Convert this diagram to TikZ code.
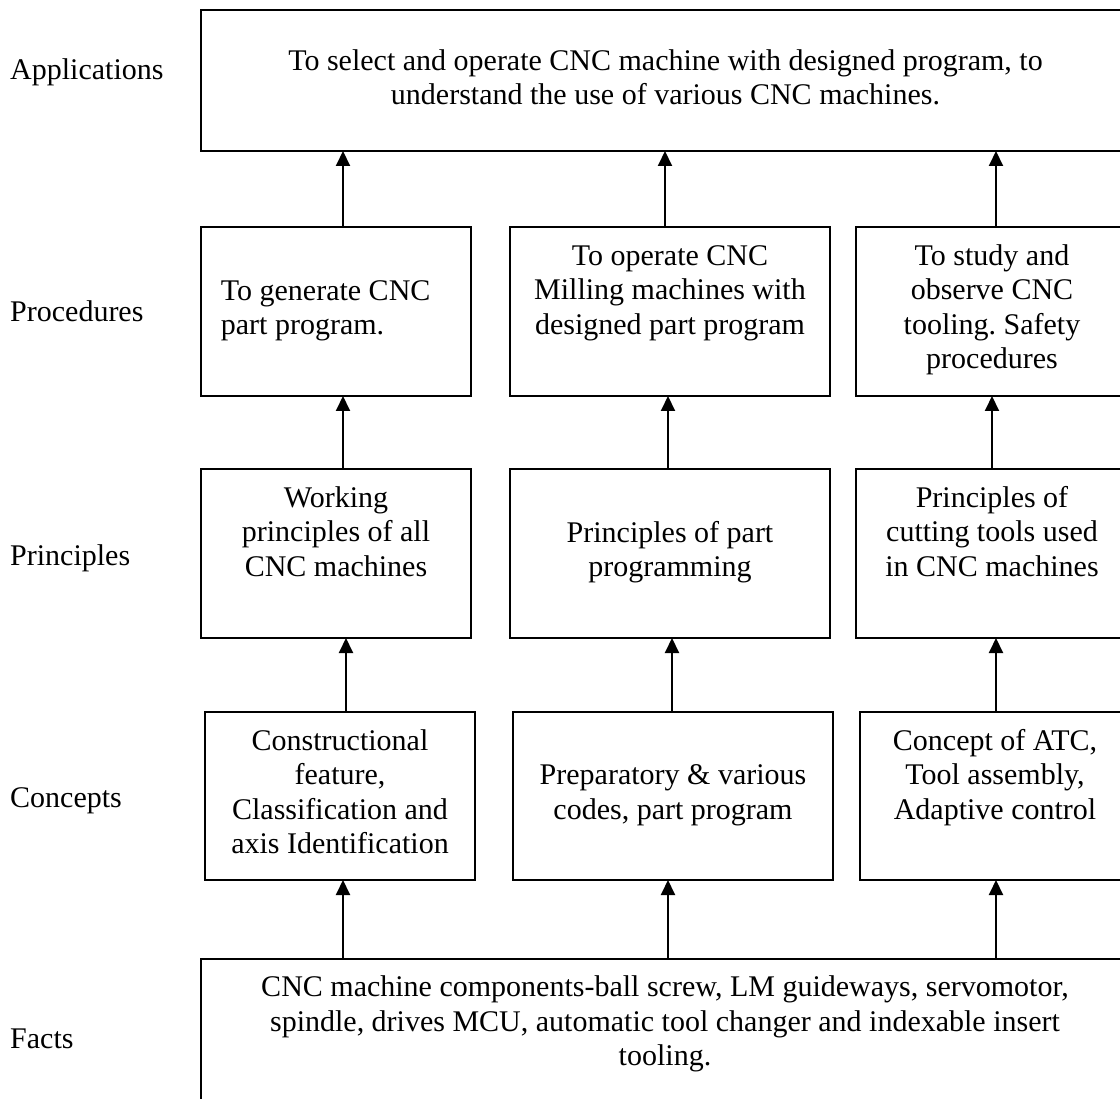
\documentclass[tikz,border=0pt]{standalone}
\usepackage{fontspec}
\setmainfont{Liberation Serif}
\usetikzlibrary{arrows.meta}
\frenchspacing
\begin{document}
\begin{tikzpicture}[x=1pt,y=-1pt,
  box/.style={draw, line width=2pt, inner sep=0pt, outer sep=0pt, anchor=north west},
  txt/.style={font=\fontsize{30}{34.5}\selectfont, inner sep=0pt, align=center, anchor=north},
  lbl/.style={font=\fontsize{30}{34.5}\selectfont, inner sep=0pt, anchor=base west},
  arr/.style={line width=2pt, -{Triangle[width=14pt,length=15pt]}}]
\useasboundingbox (0,0) rectangle (1120,1099);
\begin{scope}
\clip (0,0) rectangle (1120,1099);
% boxes
\node[box, minimum width=929, minimum height=141] (app) at (201,10) {};
\node[box, minimum width=270, minimum height=169] (p1) at (201,227) {};
\node[box, minimum width=320, minimum height=169] (p2) at (510,227) {};
\node[box, minimum width=272, minimum height=169] (p3) at (856,227) {};
\node[box, minimum width=270, minimum height=169] (r1) at (201,469) {};
\node[box, minimum width=320, minimum height=169] (r2) at (510,469) {};
\node[box, minimum width=272, minimum height=169] (r3) at (856,469) {};
\node[box, minimum width=270, minimum height=168] (c1) at (205,712) {};
\node[box, minimum width=320, minimum height=168] (c2) at (513,712) {};
\node[box, minimum width=272, minimum height=168] (c3) at (860,712) {};
\node[box, minimum width=927, minimum height=200] (f) at (201,959) {};
% texts
\node[txt] (tapp) at (665.5,49) {\rule{0pt}{21pt}To select and operate CNC machine with designed program, to\\understand the use of various CNC machines.};
\node[txt, align=left, anchor=north west] (tp1) at (220.7,279) {\rule{0pt}{21pt}To generate CNC\\part program.};
\node[txt] (tp2) at (670,244) {\rule{0pt}{21pt}To operate CNC\\Milling machines with\\designed part program};
\node[txt] (tp3) at (992,244) {\rule{0pt}{21pt}To study and\\observe CNC\\tooling. Safety\\procedures};
\node[txt] (tr1) at (336,486) {\rule{0pt}{21pt}Working\\principles of all\\CNC machines};
\node[txt] (tr2) at (670,521) {\rule{0pt}{21pt}Principles of part\\programming};
\node[txt] (tr3) at (992,486) {\rule{0pt}{21pt}Principles of\\cutting tools used\\in CNC machines};
\node[txt] (tc1) at (340,729) {\rule{0pt}{21pt}Constructional\\feature,\\Classification and\\axis Identification};
\node[txt] (tc2) at (673,763.5) {\rule{0pt}{21pt}Preparatory \& various\\codes, part program};
\node[txt] (tc3) at (995,729) {\rule{0pt}{21pt}Concept of ATC,\\Tool assembly,\\Adaptive control};
\node[txt] (tf) at (665,975.7) {\rule{0pt}{21pt}CNC machine components-ball screw, LM guideways, servomotor,\\spindle, drives MCU, automatic tool changer and indexable insert\\tooling.};
% arrow columns
\coordinate (xa) at (343,0);
\coordinate (xb) at (346,0);
\coordinate (xc) at (665,0);
\coordinate (xd) at (668,0);
\coordinate (xe) at (672,0);
\coordinate (xf) at (992,0);
\coordinate (xg) at (996,0);
\draw[arr] (p1.north -| xa) -- (app.south -| xa);
\draw[arr] (p2.north -| xc) -- (app.south -| xc);
\draw[arr] (p3.north -| xg) -- (app.south -| xg);
\draw[arr] (r1.north -| xa) -- (p1.south -| xa);
\draw[arr] (r2.north -| xd) -- (p2.south -| xd);
\draw[arr] (r3.north -| xf) -- (p3.south -| xf);
\draw[arr] (c1.north -| xb) -- (r1.south -| xb);
\draw[arr] (c2.north -| xe) -- (r2.south -| xe);
\draw[arr] (c3.north -| xg) -- (r3.south -| xg);
\draw[arr] (f.north -| xa) -- (c1.south -| xa);
\draw[arr] (f.north -| xd) -- (c2.south -| xd);
\draw[arr] (f.north -| xg) -- (c3.south -| xg);
\end{scope}
% level labels
\node[lbl] (lapp) at (10,80) {Applications};
\node[lbl] (lpro) at (10,322) {Procedures};
\node[lbl] (lpri) at (10,565) {Principles};
\node[lbl] (lcon) at (10,807) {Concepts};
\node[lbl] (lfac) at (10,1048) {Facts};
\end{tikzpicture}
\end{document}
